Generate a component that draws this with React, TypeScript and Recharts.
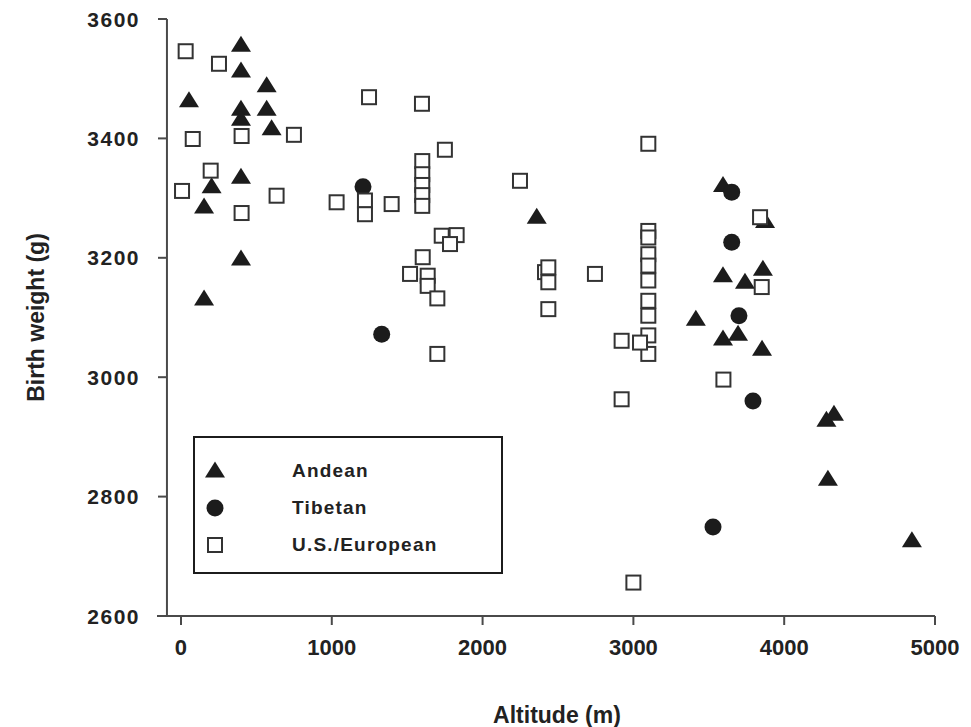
import { ScatterChart, Scatter, XAxis, YAxis, ReferenceLine, Legend } from 'recharts'

// Andean (filled triangles)
const andeanAltitude = [53, 398, 398, 398, 398, 398, 398, 568, 568, 601, 203, 153, 153, 2359, 3414, 3594, 3594, 3740, 3859, 3594, 3694, 3853, 3873, 4280, 4330, 4290, 4847]
const andeanWeight = [3463, 3556, 3513, 3449, 3432, 3335, 3198, 3488, 3449, 3416, 3319, 3285, 3131, 3268, 3097, 3321, 3170, 3159, 3181, 3064, 3072, 3047, 3261, 2928, 2938, 2829, 2726]

// Tibetan (filled circles)
const tibetanAltitude = [1207, 1331, 3652, 3652, 3700, 3793, 3528]
const tibetanWeight = [3319, 3072, 3310, 3226, 3103, 2960, 2749]

// U.S./European (open squares)
const euroAltitude = [31, 252, 78, 402, 749, 1247, 1598, 1750, 197, 7, 402, 634, 1032, 1220, 1220, 1397, 1600, 1600, 1600, 1600, 1600, 1729, 1828, 1784, 1603, 1519, 1636, 1636, 1700, 1700, 2248, 2414, 2436, 2436, 2436, 2745, 3099, 3099, 3099, 3099, 3099, 3099, 3099, 3099, 3099, 3099, 2922, 3044, 2922, 3597, 3840, 3851, 3000]
const euroWeight = [3546, 3525, 3399, 3404, 3406, 3469, 3458, 3381, 3346, 3312, 3275, 3304, 3293, 3296, 3273, 3290, 3362, 3340, 3322, 3305, 3287, 3237, 3238, 3223, 3201, 3173, 3170, 3153, 3132, 3039, 3329, 3176, 3184, 3159, 3114, 3173, 3391, 3245, 3234, 3206, 3187, 3162, 3128, 3103, 3070, 3039, 3061, 3058, 2963, 2996, 3268, 3151, 2656]

const xTicks = [0, 1000, 2000, 3000, 4000, 5000]
const yTicks = [2600, 2800, 3000, 3200, 3400, 3600]
const seriesNames = ['Andean', 'Tibetan', 'U.S./European']

const toPoints = (xs: number[], ys: number[]) => xs.map((x, i) => ({ alt: x, bw: ys[i] }))

const INK = '#1c1c1c'
const AXIS = '#4a4a4a'
const FONT = "'Liberation Sans', Arial, sans-serif"

function Triangle({ cx, cy }: any) {
  return <path d={`M${cx},${cy - 9.5} L${cx + 10},${cy + 6.5} L${cx - 10},${cy + 6.5} Z`} fill={INK} />
}

function Dot({ cx, cy }: any) {
  return <circle cx={cx} cy={cy} r={8.5} fill={INK} />
}

function Box({ cx, cy }: any) {
  return <rect x={cx - 7} y={cy - 7} width={14} height={14} fill="#fff" stroke="#333" strokeWidth={2} />
}

const shapes = [Triangle, Dot, Box]

function YTick({ x, y, payload }: any) {
  return (
    <g>
      <line x1={x + 1} x2={x + 10} y1={y} y2={y} stroke={AXIS} strokeWidth={2} />
      <text x={x - 17} y={y} dy="0.36em" textAnchor="end" fontFamily={FONT} fontWeight="bold" fontSize={21} letterSpacing={1.5} fill="#222">
        {payload.value}
      </text>
    </g>
  )
}

function YLabel({ viewBox }: any) {
  const cx = 36
  const cy = viewBox.y + viewBox.height / 2
  return (
    <text x={cx} y={cy} transform={`rotate(-90 ${cx} ${cy})`} textAnchor="middle" dy="0.36em" fontFamily={FONT} fontWeight="bold" fontSize={23} fill="#222">
      Birth weight (g)
    </text>
  )
}

function LegendBox() {
  return (
    <div style={{ border: `2px solid ${INK}`, boxSizing: 'border-box', width: 310, height: 138, paddingTop: 14 }}>
      {seriesNames.map((name, i) => {
        const Shape = shapes[i]
        return (
          <div key={name} style={{ display: 'flex', alignItems: 'center', height: 37 }}>
            <svg width={40} height={24}>
              <Shape cx={20} cy={12} />
            </svg>
            <span style={{ marginLeft: 57, fontFamily: FONT, fontWeight: 'bold', fontSize: 19, letterSpacing: 1.2, color: '#222' }}>{name}</span>
          </div>
        )
      })}
    </div>
  )
}

export default function App() {
  return (
    <div style={{ position: 'absolute', left: 0, top: 0 }}>
      <ScatterChart width={971} height={727} margin={{ top: 19, right: 36, bottom: 0, left: 0 }}>
        <XAxis
          type="number"
          dataKey="alt"
          domain={[-159, 5000]}
          ticks={xTicks}
          allowDataOverflow
          height={111}
          axisLine={{ stroke: AXIS, strokeWidth: 2 }}
          tickLine={{ stroke: AXIS, strokeWidth: 2 }}
          tickSize={9}
          tickMargin={14}
          tick={{ fontFamily: FONT, fontWeight: 'bold', fontSize: 22, fill: '#222' }}
          label={{ value: 'Altitude (m)', position: 'insideBottom', offset: 4, dx: 11, fontFamily: FONT, fontWeight: 'bold', fontSize: 23, fill: '#222' }}
        />
        <YAxis
          type="number"
          dataKey="bw"
          domain={[2600, 3600]}
          ticks={yTicks}
          width={157}
          axisLine={false}
          tickLine={false}
          tickSize={0}
          tickMargin={0}
          tick={<YTick />}
          label={<YLabel />}
        />
        <ReferenceLine segment={[{ x: -93, y: 2600 }, { x: -93, y: 3600 }]} stroke={AXIS} strokeWidth={2} />
        <Legend
          layout="vertical"
          align="center"
          verticalAlign="middle"
          content={<LegendBox />}
          wrapperStyle={{ left: 193, top: 436, width: 310, height: 138 }}
        />
        <Scatter name="Andean" data={toPoints(andeanAltitude, andeanWeight)} shape={<Triangle />} isAnimationActive={false} />
        <Scatter name="Tibetan" data={toPoints(tibetanAltitude, tibetanWeight)} shape={<Dot />} isAnimationActive={false} />
        <Scatter name="U.S./European" data={toPoints(euroAltitude, euroWeight)} shape={<Box />} isAnimationActive={false} />
      </ScatterChart>
    </div>
  )
}
